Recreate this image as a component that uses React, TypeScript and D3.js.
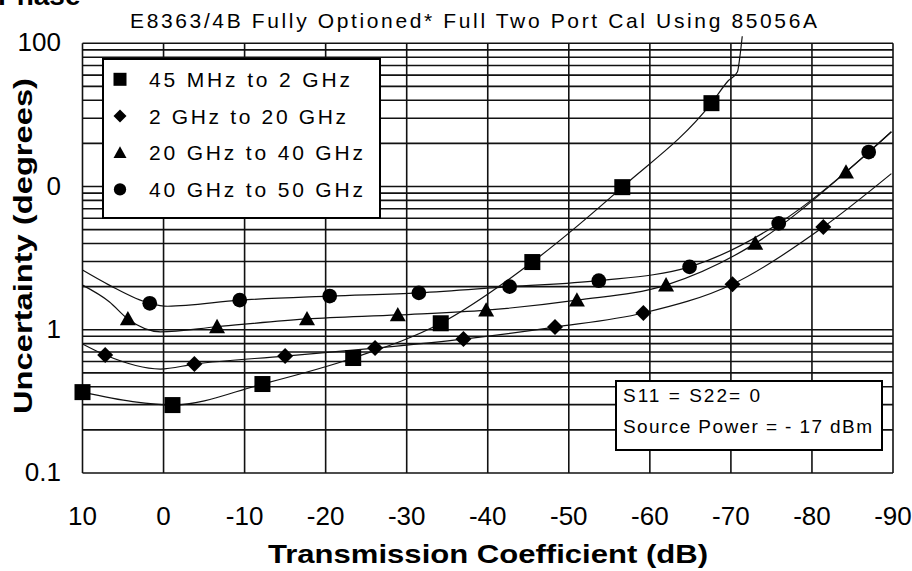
import React from 'react';
import * as d3 from 'd3';

// x axis: transmission coefficient in dB, y axis: phase uncertainty in degrees (log)
const xTicks = [10, 0, -10, -20, -30, -40, -50, -60, -70, -80, -90];
const yTickValues = [0.1, 1, 10, 100];
// the leading "1" of the 10 label is lost under the axis title in the source
const yTickLabels = ['0.1', '1', '0', '100'];

const seriesNames = ['45 MHz to 2 GHz', '2 GHz to 20 GHz', '20 GHz to 40 GHz', '40 GHz to 50 GHz'];
const seriesShapes = ['square', 'diamond', 'triangle', 'circle'];

type Pt = [number, number];

// marker points [dB, degrees]
const lowMarks: Pt[] = [[10, 0.367], [-1.1, 0.298], [-12.2, 0.418], [-23.4, 0.635], [-34.2, 1.11], [-45.5, 2.97], [-56.6, 9.9], [-67.6, 38.2]];
const midMarks: Pt[] = [[7.2, 0.666], [-3.8, 0.576], [-15, 0.655], [-26.1, 0.745], [-37, 0.861], [-48.3, 1.044], [-59.2, 1.31], [-70.2, 2.08], [-81.4, 5.21]];
const highMarks: Pt[] = [[4.4, 1.19], [-6.6, 1.05], [-17.7, 1.19], [-28.9, 1.27], [-39.8, 1.37], [-51, 1.61], [-62, 2.05], [-73, 4.01], [-84.2, 12.6]];
const topMarks: Pt[] = [[1.7, 1.53], [-9.4, 1.61], [-20.5, 1.72], [-31.5, 1.81], [-42.7, 2.0], [-53.7, 2.2], [-64.9, 2.75], [-75.9, 5.53], [-87, 17.4]];

// fitted curves [dB, degrees]
const lowCurve: Pt[] = [[10, 0.367], [3.8, 0.315], [-1.1, 0.298], [-12.2, 0.418], [-23.4, 0.635], [-34.2, 1.11], [-45.5, 2.97], [-56.6, 9.9], [-67.6, 38.2], [-69.7, 55], [-70.8, 63], [-71.1, 80], [-71.4, 112]];
const midCurve: Pt[] = [[10, 0.795], [7.2, 0.666], [0.4, 0.532], [-3.8, 0.576], [-15, 0.655], [-26.1, 0.745], [-37, 0.861], [-48.3, 1.044], [-59.2, 1.31], [-70.2, 2.08], [-81.4, 5.21], [-89.8, 12.3]];
const highCurve: Pt[] = [[10, 2.61 * 0.785], [6.7, 1.57], [4.4, 1.19], [0.4, 0.968], [-6.6, 1.05], [-17.7, 1.19], [-28.9, 1.27], [-39.8, 1.37], [-51, 1.61], [-62, 2.05], [-73, 4.01], [-84.2, 12.6], [-89.8, 24.1]];
const topCurve: Pt[] = [[10, 2.61], [6.7, 2.05], [1.7, 1.53], [-0.5, 1.46], [-9.4, 1.61], [-20.5, 1.72], [-31.5, 1.81], [-42.7, 2.0], [-53.7, 2.2], [-64.9, 2.75], [-75.9, 5.53], [-87, 17.4], [-89.8, 24.1]];

const allMarks = [lowMarks, midMarks, highMarks, topMarks];
const allCurves = [lowCurve, midCurve, highCurve, topCurve];

const W = 912;
const H = 571;
const FONT = '"Liberation Sans", Arial, sans-serif';

const x = d3.scaleLinear().domain([10, -90]).range([82.5, 893]);
const y = d3.scaleLog().domain([0.1, 100]).range([473, 43.3]);

const line = d3.line<Pt>()
  .x(d => x(d[0]))
  .y(d => y(d[1]))
  .curve(d3.curveMonotoneX);

function Marker({ shape, cx, cy, s }: { shape: string; cx: number; cy: number; s: number }) {
  const h = s / 2;
  if (shape === 'square') return <rect x={cx - h} y={cy - h} width={s} height={s} fill="#000" />;
  if (shape === 'diamond') return <path d={`M${cx},${cy - h}L${cx + h},${cy}L${cx},${cy + h}L${cx - h},${cy}Z`} fill="#000" />;
  if (shape === 'triangle') return <path d={`M${cx},${cy - h}L${cx + h},${cy + h * 0.8}L${cx - h},${cy + h * 0.8}Z`} fill="#000" />;
  return <circle cx={cx} cy={cy} r={h * 0.95} fill="#000" />;
}

export default function App() {
  const [x0, x1] = x.range();
  const [y0, y1] = y.range();
  const gridY = y.ticks();

  return (
    <>
      <style>{`body{margin:0;background:#fff}`}</style>
      <svg width={W} height={H} style={{ display: 'block', background: '#fff' }} fontFamily={FONT}>
        <text x={-2} y={5} fontSize={28} fontWeight="bold">Phase</text>
        <text x={130} y={28} fontSize={21} textLength={687} lengthAdjust="spacing">
          E8363/4B Fully Optioned* Full Two Port Cal Using 85056A
        </text>

        {/* grid */}
        <g stroke="#111" strokeWidth={1.6}>
          {gridY.map((v, i) => (
            <line key={'h' + i} x1={x0} x2={x1} y1={y(v)} y2={y(v)} />
          ))}
          {xTicks.map(t => (
            <line key={'v' + t} x1={x(t)} x2={x(t)} y1={y1} y2={y0} />
          ))}
        </g>

        {/* y ticks */}
        {yTickValues.map((v, i) => (
          <text key={v} x={61} y={y(v) + 8} fontSize={26} textAnchor="end">{yTickLabels[i]}</text>
        ))}
        {/* x ticks */}
        {xTicks.map(t => (
          <text key={t} x={x(t)} y={525} fontSize={26} textAnchor="middle">{t === 0 ? '0' : String(t)}</text>
        ))}

        <text x={488} y={563} fontSize={25} fontWeight="bold" textAnchor="middle" textLength={440} lengthAdjust="spacingAndGlyphs">
          Transmission Coefficient (dB)
        </text>
        <text transform="translate(32,246) rotate(-90)" fontSize={25} fontWeight="bold" textAnchor="middle" textLength={336} lengthAdjust="spacingAndGlyphs">
          Uncertainty (degrees)
        </text>

        {/* curves */}
        <g fill="none" stroke="#111" strokeWidth={1.2}>
          {allCurves.map((c, i) => <path key={i} d={line(c) || ''} />)}
        </g>

        {/* markers */}
        {allMarks.map((ms, i) => (
          <g key={i}>
            {ms.map((m, j) => (
              <Marker key={j} shape={seriesShapes[i]} cx={x(m[0])} cy={y(m[1])} s={seriesShapes[i] === 'circle' ? 15.5 : 16} />
            ))}
          </g>
        ))}

        {/* legend */}
        <rect x={103} y={59} width={277} height={159} fill="#fff" stroke="#000" strokeWidth={2} />
        {seriesNames.map((n, i) => {
          const cy = 79.3 + i * 36.7;
          const widths = [201, 197, 214, 214];
          return (
            <g key={n}>
              <Marker shape={seriesShapes[i]} cx={120} cy={cy} s={13} />
              <text x={149} y={cy + 7.5} fontSize={21} textLength={widths[i]} lengthAdjust="spacing">{n}</text>
            </g>
          );
        })}

        {/* conditions box */}
        <rect x={616} y={381} width={266} height={69} fill="#fff" stroke="#000" strokeWidth={2} />
        <text x={623} y={401.5} fontSize={19} textLength={137} lengthAdjust="spacing">S11 = S22= 0</text>
        <text x={623} y={433} fontSize={19} textLength={249} lengthAdjust="spacing">Source Power = - 17  dBm</text>
      </svg>
    </>
  );
}
